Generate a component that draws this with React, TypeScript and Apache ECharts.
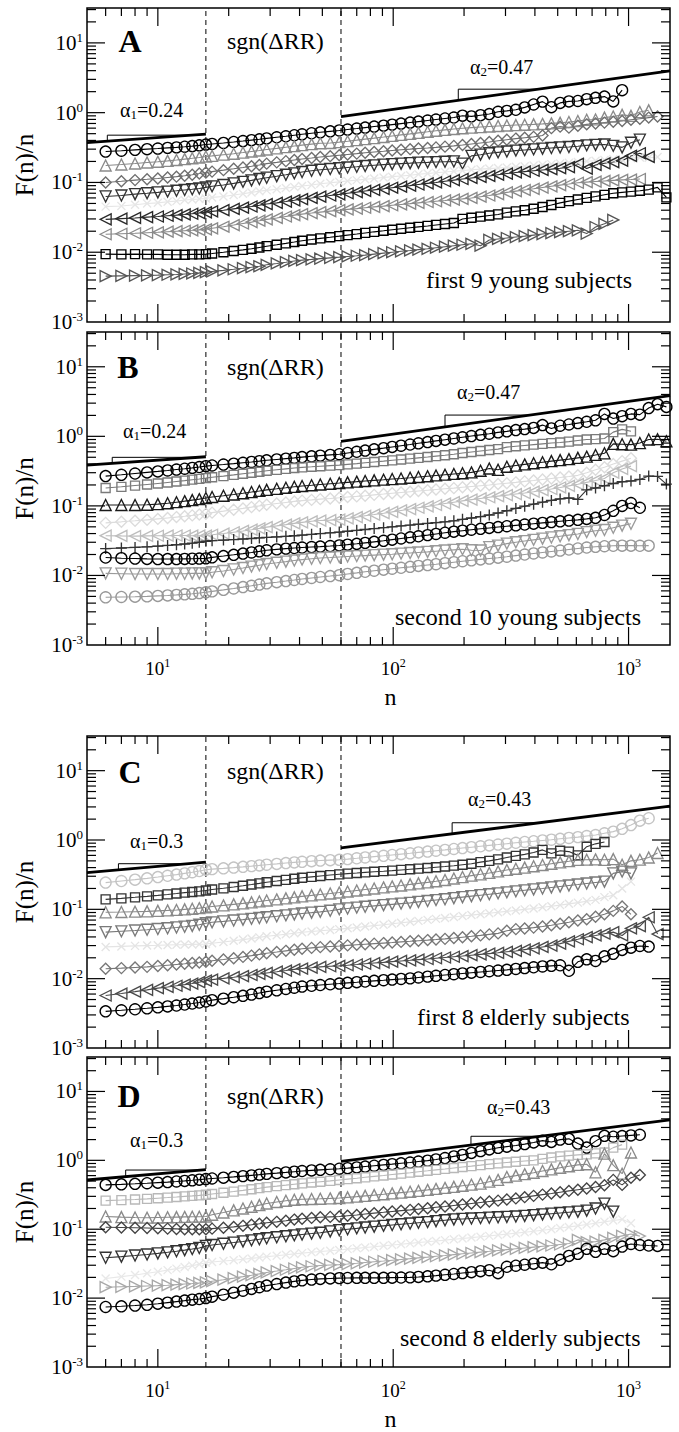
import React, { useEffect, useRef } from 'react';
import * as echarts from 'echarts';

// ---------- window sizes n (x values) ----------
const N = [6, 7, 8, 9, 10, 11, 12, 13, 14, 15,
  16, 17, 19, 21, 23, 25, 27, 29, 32, 35,
  38, 41, 45, 49, 54, 59, 64, 70, 76, 83,
  91, 99, 108, 118, 128, 140, 152, 166, 181, 197,
  215, 235, 256, 279, 304, 332, 362, 395, 431, 470,
  512, 558, 609, 664, 724, 790, 861, 939, 1024, 1117,
  1218, 1328, 1448];

// ---------- Panel A : first 9 young subjects ----------
const A1 = [0.277, 0.285, 0.293, 0.300, 0.306, 0.313, 0.318, 0.325, 0.332, 0.340,
  0.349, 0.356, 0.368, 0.380, 0.392, 0.404, 0.415, 0.428, 0.444, 0.459,
  0.475, 0.490, 0.507, 0.523, 0.540, 0.556, 0.573, 0.592, 0.611, 0.632,
  0.652, 0.674, 0.697, 0.721, 0.745, 0.772, 0.797, 0.825, 0.852, 0.905,
  0.885, 0.920, 0.955, 1.03, 1.06, 1.10, 1.19, 1.31, 1.44, 1.20,
  1.38, 1.45, 1.47, 1.56, 1.63, 1.70, 1.45, 2.10];
const A2 = [0.175, 0.181, 0.187, 0.193, 0.198, 0.204, 0.210, 0.216, 0.222, 0.228,
  0.235, 0.240, 0.250, 0.258, 0.268, 0.278, 0.287, 0.297, 0.308, 0.320,
  0.332, 0.343, 0.354, 0.364, 0.368, 0.378, 0.390, 0.404, 0.418, 0.432,
  0.448, 0.464, 0.480, 0.497, 0.514, 0.532, 0.551, 0.567, 0.583, 0.598,
  0.610, 0.622, 0.634, 0.645, 0.655, 0.664, 0.672, 0.680, 0.690, 0.702,
  0.715, 0.735, 0.760, 0.790, 0.800, 0.850, 0.880, 0.930, 0.900, 1.02,
  1.08];
const A3 = [0.100, 0.104, 0.108, 0.111, 0.114, 0.118, 0.121, 0.125, 0.129, 0.134,
  0.139, 0.143, 0.150, 0.157, 0.164, 0.171, 0.178, 0.186, 0.194, 0.202,
  0.210, 0.217, 0.224, 0.231, 0.238, 0.245, 0.252, 0.259, 0.266, 0.273,
  0.280, 0.287, 0.294, 0.300, 0.306, 0.312, 0.318, 0.326, 0.334, 0.344,
  0.356, 0.368, 0.380, 0.395, 0.410, 0.425, 0.438, 0.450, 0.470, 0.600,
  0.630, 0.610, 0.650, 0.680, 0.700, 0.720, 0.740, 0.760, 0.790, 0.820,
  0.850, 0.880];
const A4 = [0.063, 0.065, 0.068, 0.070, 0.072, 0.074, 0.076, 0.078, 0.080, 0.082,
  0.085, 0.088, 0.092, 0.097, 0.102, 0.107, 0.112, 0.117, 0.123, 0.129,
  0.135, 0.141, 0.147, 0.152, 0.156, 0.160, 0.164, 0.168, 0.172, 0.176,
  0.180, 0.183, 0.186, 0.189, 0.192, 0.194, 0.196, 0.198, 0.200, 0.186,
  0.240, 0.250, 0.262, 0.270, 0.278, 0.286, 0.292, 0.298, 0.305, 0.312,
  0.318, 0.322, 0.330, 0.340, 0.345, 0.350, 0.335, 0.318, 0.370, 0.410];
const A5 = [0.045, 0.046, 0.048, 0.050, 0.051, 0.053, 0.054, 0.056, 0.057, 0.058,
  0.059, 0.061, 0.063, 0.066, 0.069, 0.072, 0.075, 0.077, 0.080, 0.083,
  0.086, 0.089, 0.092, 0.096, 0.099, 0.102, 0.105, 0.108, 0.111, 0.114,
  0.118, 0.121, 0.124, 0.127, 0.131, 0.134, 0.138, 0.141, 0.145, 0.148,
  0.152, 0.155, 0.158, 0.161, 0.164, 0.168, 0.171, 0.175, 0.179, 0.183,
  0.187, 0.191, 0.196, 0.201, 0.205, 0.210, 0.215, 0.212, 0.222, 0.228,
  0.226, 0.232];
const A6 = [0.0296, 0.0303, 0.0310, 0.0318, 0.0325, 0.0333, 0.0340, 0.0348, 0.0356, 0.0364,
  0.0373, 0.0385, 0.0400, 0.0418, 0.0435, 0.0452, 0.0470, 0.0490, 0.0510, 0.0532,
  0.0555, 0.0578, 0.0600, 0.0625, 0.0650, 0.0674, 0.0700, 0.0727, 0.0755, 0.0783,
  0.0810, 0.0840, 0.0870, 0.0900, 0.0935, 0.0970, 0.1000, 0.1040, 0.1080, 0.1120,
  0.1160, 0.1200, 0.1240, 0.1290, 0.1340, 0.1390, 0.1430, 0.1470, 0.1510, 0.1550,
  0.1600, 0.1660, 0.1850, 0.1580, 0.1780, 0.1880, 0.1960, 0.2050, 0.2400, 0.2620,
  0.2320];
const A7 = [0.0181, 0.0184, 0.0187, 0.0190, 0.0193, 0.0197, 0.0200, 0.0203, 0.0206, 0.0209,
  0.0213, 0.0220, 0.0232, 0.0245, 0.0258, 0.0270, 0.0283, 0.0296, 0.0310, 0.0325,
  0.0340, 0.0352, 0.0364, 0.0376, 0.0388, 0.0400, 0.0411, 0.0422, 0.0434, 0.0446,
  0.0458, 0.0471, 0.0484, 0.0497, 0.0510, 0.0524, 0.0538, 0.0552, 0.0567, 0.0582,
  0.0600, 0.0625, 0.0650, 0.0680, 0.0720, 0.0750, 0.0780, 0.0810, 0.0845, 0.0880,
  0.0915, 0.0950, 0.0990, 0.1010, 0.1030, 0.1050, 0.1070, 0.1090, 0.1100, 0.1120];
const A8 = [0.0094, 0.0093, 0.0094, 0.0093, 0.0093, 0.0092, 0.0092, 0.0092, 0.0093, 0.0093,
  0.0094, 0.0096, 0.0100, 0.0104, 0.0108, 0.0112, 0.0117, 0.0122, 0.0128, 0.0134,
  0.0140, 0.0146, 0.0152, 0.0158, 0.0164, 0.0170, 0.0176, 0.0182, 0.0189, 0.0196,
  0.0203, 0.0210, 0.0217, 0.0224, 0.0231, 0.0238, 0.0246, 0.0254, 0.0262, 0.0300,
  0.0312, 0.0324, 0.0336, 0.0348, 0.0370, 0.0385, 0.0400, 0.0420, 0.0445, 0.0475,
  0.0510, 0.0540, 0.0570, 0.0600, 0.0630, 0.0665, 0.0700, 0.0720, 0.0740, 0.0760,
  0.0790, 0.0850, 0.0610];
const A9 = [0.00454, 0.00458, 0.00462, 0.00466, 0.00470, 0.00475, 0.00480, 0.00488, 0.00496, 0.00506,
  0.00518, 0.0053, 0.0055, 0.0057, 0.0059, 0.0061, 0.0063, 0.0066, 0.0069, 0.0072,
  0.0075, 0.0077, 0.0079, 0.0081, 0.0083, 0.0085, 0.0087, 0.0089, 0.0091, 0.0094,
  0.0097, 0.0100, 0.0103, 0.0106, 0.0109, 0.0112, 0.0116, 0.0120, 0.0124, 0.0128,
  0.0132, 0.0124, 0.0150, 0.0155, 0.0160, 0.0165, 0.0170, 0.0176, 0.0182, 0.0188,
  0.0194, 0.0200, 0.0206, 0.0185, 0.0230, 0.0255, 0.0290];

// ---------- Panel B : second 10 young subjects ----------
const B1 = [0.268, 0.280, 0.292, 0.303, 0.313, 0.323, 0.333, 0.342, 0.352, 0.362,
  0.373, 0.381, 0.393, 0.405, 0.417, 0.428, 0.440, 0.452, 0.465, 0.478,
  0.490, 0.503, 0.516, 0.528, 0.541, 0.553, 0.576, 0.600, 0.624, 0.650,
  0.676, 0.704, 0.733, 0.763, 0.794, 0.826, 0.860, 0.895, 0.932, 0.970,
  1.01, 1.05, 1.09, 1.14, 1.18, 1.23, 1.27, 1.32, 1.45, 1.30,
  1.42, 1.48, 1.55, 1.62, 1.70, 2.10, 1.80, 1.95, 2.10, 2.05,
  2.55, 2.90, 2.65];
const B2 = [0.181, 0.188, 0.196, 0.203, 0.210, 0.217, 0.224, 0.231, 0.238, 0.244,
  0.251, 0.258, 0.268, 0.279, 0.290, 0.300, 0.310, 0.320, 0.330, 0.340,
  0.350, 0.358, 0.365, 0.372, 0.379, 0.385, 0.395, 0.405, 0.416, 0.428,
  0.440, 0.452, 0.464, 0.477, 0.490, 0.505, 0.520, 0.535, 0.553, 0.575,
  0.595, 0.615, 0.635, 0.655, 0.700, 0.720, 0.740, 0.760, 0.780, 0.800,
  0.815, 0.840, 0.870, 0.900, 0.910, 0.930, 1.15, 1.26, 1.18];
const B3 = [0.103, 0.103, 0.103, 0.104, 0.106, 0.109, 0.113, 0.117, 0.121, 0.125,
  0.130, 0.134, 0.140, 0.146, 0.152, 0.158, 0.164, 0.170, 0.176, 0.182,
  0.188, 0.193, 0.198, 0.203, 0.208, 0.213, 0.218, 0.223, 0.228, 0.233,
  0.238, 0.243, 0.248, 0.254, 0.260, 0.267, 0.274, 0.281, 0.288, 0.295,
  0.303, 0.320, 0.345, 0.330, 0.365, 0.380, 0.395, 0.410, 0.425, 0.440,
  0.455, 0.470, 0.490, 0.510, 0.540, 0.570, 0.780, 0.770, 0.760, 0.800,
  0.900, 0.910, 0.850];
const B4 = [0.057, 0.059, 0.061, 0.063, 0.065, 0.067, 0.069, 0.071, 0.073, 0.075,
  0.077, 0.080, 0.084, 0.088, 0.092, 0.096, 0.100, 0.104, 0.108, 0.112,
  0.116, 0.119, 0.122, 0.125, 0.128, 0.131, 0.134, 0.137, 0.140, 0.144,
  0.148, 0.152, 0.156, 0.160, 0.164, 0.168, 0.172, 0.176, 0.180, 0.185,
  0.190, 0.195, 0.200, 0.206, 0.212, 0.218, 0.225, 0.232, 0.240, 0.248,
  0.256, 0.265, 0.275, 0.300, 0.330, 0.360, 0.400, 0.440, 0.485];
const B5 = [0.0373, 0.0370, 0.0368, 0.0370, 0.0372, 0.0373, 0.0375, 0.0375, 0.0373, 0.0373,
  0.0373, 0.0385, 0.0400, 0.0418, 0.0436, 0.0455, 0.0475, 0.0495, 0.0516, 0.0538,
  0.0560, 0.0580, 0.0600, 0.0615, 0.0625, 0.0635, 0.0660, 0.0690, 0.0720, 0.0750,
  0.0785, 0.0820, 0.0860, 0.0900, 0.0940, 0.0985, 0.103, 0.108, 0.113, 0.118,
  0.123, 0.128, 0.133, 0.138, 0.143, 0.148, 0.153, 0.160, 0.168, 0.175,
  0.184, 0.194, 0.205, 0.218, 0.232, 0.248, 0.300, 0.340, 0.373];
const B6 = [0.0243, 0.0248, 0.0253, 0.0258, 0.0264, 0.0270, 0.0276, 0.0283, 0.0291, 0.0300,
  0.0310, 0.0316, 0.0322, 0.0328, 0.0334, 0.0340, 0.0346, 0.0352, 0.0358, 0.0365,
  0.0372, 0.0380, 0.0390, 0.0400, 0.0410, 0.0420, 0.0432, 0.0445, 0.0458, 0.0472,
  0.0486, 0.0500, 0.0515, 0.0530, 0.0545, 0.0560, 0.0575, 0.0590, 0.0610, 0.0640,
  0.0670, 0.0700, 0.0740, 0.0790, 0.0850, 0.0920, 0.0990, 0.106, 0.113, 0.120,
  0.126, 0.130, 0.124, 0.170, 0.181, 0.195, 0.210, 0.222, 0.228, 0.240,
  0.268, 0.265, 0.206];
const B7 = [0.0181, 0.0177, 0.0175, 0.0173, 0.0172, 0.0172, 0.0172, 0.0173, 0.0174, 0.0175,
  0.0176, 0.0182, 0.0190, 0.0198, 0.0206, 0.0214, 0.0222, 0.0230, 0.0237, 0.0243,
  0.0248, 0.0252, 0.0256, 0.0260, 0.0265, 0.0270, 0.0277, 0.0285, 0.0294, 0.0304,
  0.0315, 0.0327, 0.0340, 0.0353, 0.0366, 0.0380, 0.0395, 0.0411, 0.0426, 0.0440,
  0.0454, 0.0468, 0.0482, 0.0496, 0.0510, 0.0525, 0.0540, 0.0555, 0.0570, 0.0585,
  0.0600, 0.0615, 0.0630, 0.0650, 0.0674, 0.0740, 0.0850, 0.100, 0.110, 0.094];
const B8 = [0.0107, 0.0106, 0.0105, 0.0105, 0.0105, 0.0105, 0.0106, 0.0106, 0.0107, 0.0107,
  0.0107, 0.0111, 0.0116, 0.0122, 0.0128, 0.0134, 0.0140, 0.0146, 0.0152, 0.0158,
  0.0164, 0.0169, 0.0174, 0.0178, 0.0181, 0.0184, 0.0187, 0.0190, 0.0193, 0.0196,
  0.0199, 0.0202, 0.0206, 0.0210, 0.0214, 0.0218, 0.0223, 0.0228, 0.0233, 0.0238,
  0.0230, 0.0228, 0.0255, 0.0268, 0.0287, 0.0300, 0.0312, 0.0325, 0.0338, 0.0352,
  0.0366, 0.0380, 0.0395, 0.0420, 0.0440, 0.0450, 0.0485, 0.0520, 0.0553];
const B9 = [0.00485, 0.00490, 0.00495, 0.00500, 0.00508, 0.00516, 0.00525, 0.00535, 0.00545, 0.00558,
  0.00572, 0.0059, 0.0062, 0.0065, 0.0068, 0.0071, 0.0074, 0.0077, 0.0080, 0.0083,
  0.0086, 0.0089, 0.0092, 0.0095, 0.0098, 0.0101, 0.0105, 0.0109, 0.0113, 0.0117,
  0.0121, 0.0125, 0.0129, 0.0133, 0.0137, 0.0141, 0.0145, 0.0150, 0.0155, 0.0160,
  0.0165, 0.0170, 0.0175, 0.0180, 0.0186, 0.0193, 0.0200, 0.0207, 0.0214, 0.0221,
  0.0228, 0.0236, 0.0244, 0.0252, 0.0258, 0.0263, 0.0267, 0.0268, 0.0268, 0.0267,
  0.0268];

// ---------- Panel C : first 8 elderly subjects ----------
const C1 = [0.243, 0.256, 0.268, 0.280, 0.292, 0.305, 0.317, 0.330, 0.343, 0.357,
  0.373, 0.380, 0.390, 0.400, 0.410, 0.420, 0.430, 0.440, 0.452, 0.465,
  0.475, 0.485, 0.495, 0.505, 0.512, 0.518, 0.530, 0.545, 0.560, 0.576,
  0.592, 0.608, 0.625, 0.643, 0.662, 0.680, 0.700, 0.720, 0.742, 0.765,
  0.788, 0.812, 0.836, 0.860, 0.885, 0.912, 0.936, 0.960, 0.985, 1.01,
  1.04, 1.07, 1.10, 1.14, 1.18, 1.25, 1.32, 1.45, 1.64, 1.90,
  2.06];
const C2 = [0.139, 0.144, 0.149, 0.154, 0.159, 0.164, 0.169, 0.174, 0.178, 0.182,
  0.187, 0.193, 0.201, 0.210, 0.219, 0.228, 0.237, 0.246, 0.256, 0.266,
  0.276, 0.285, 0.294, 0.303, 0.312, 0.320, 0.327, 0.334, 0.341, 0.348,
  0.355, 0.362, 0.370, 0.378, 0.386, 0.395, 0.405, 0.415, 0.426, 0.440,
  0.455, 0.480, 0.500, 0.525, 0.560, 0.590, 0.620, 0.660, 0.720, 0.640,
  0.700, 0.680, 0.600, 0.800, 0.880, 0.936];
const C3 = [0.0906, 0.0915, 0.0925, 0.0935, 0.0950, 0.0965, 0.0980, 0.100, 0.102, 0.104,
  0.107, 0.110, 0.114, 0.118, 0.122, 0.126, 0.130, 0.134, 0.139, 0.144,
  0.149, 0.154, 0.159, 0.164, 0.169, 0.175, 0.181, 0.187, 0.193, 0.200,
  0.207, 0.214, 0.221, 0.229, 0.237, 0.245, 0.254, 0.265, 0.278, 0.292,
  0.306, 0.320, 0.335, 0.352, 0.370, 0.385, 0.400, 0.418, 0.436, 0.455,
  0.475, 0.495, 0.518, 0.520, 0.525, 0.518, 0.530, 0.440, 0.500, 0.520,
  0.560, 0.650];
const C4 = [0.0469, 0.0482, 0.0495, 0.0508, 0.0521, 0.0534, 0.0548, 0.0562, 0.0577, 0.0600,
  0.0630, 0.0650, 0.0670, 0.0690, 0.0710, 0.0730, 0.0750, 0.0770, 0.0795, 0.0820,
  0.0845, 0.0870, 0.0895, 0.0920, 0.0955, 0.100, 0.103, 0.106, 0.109, 0.112,
  0.115, 0.118, 0.121, 0.124, 0.128, 0.132, 0.136, 0.140, 0.145, 0.150,
  0.155, 0.160, 0.165, 0.170, 0.176, 0.182, 0.188, 0.194, 0.200, 0.207,
  0.214, 0.221, 0.228, 0.236, 0.244, 0.251, 0.330, 0.350, 0.330];
const C5 = [0.0287, 0.0292, 0.0297, 0.0300, 0.0303, 0.0306, 0.0308, 0.0310, 0.0312, 0.0314,
  0.0316, 0.0325, 0.0338, 0.0352, 0.0366, 0.0380, 0.0394, 0.0408, 0.0423, 0.0438,
  0.0453, 0.0466, 0.0478, 0.0490, 0.0504, 0.0518, 0.0532, 0.0548, 0.0565, 0.0582,
  0.0600, 0.0620, 0.0640, 0.0660, 0.0682, 0.0705, 0.0728, 0.0752, 0.0776, 0.0800,
  0.0826, 0.0852, 0.0880, 0.0906, 0.0935, 0.0965, 0.0998, 0.103, 0.107, 0.111,
  0.115, 0.120, 0.125, 0.131, 0.137, 0.150, 0.160, 0.200, 0.251];
const C6 = [0.0139, 0.0142, 0.0145, 0.0148, 0.0152, 0.0156, 0.0160, 0.0164, 0.0168, 0.0171,
  0.0175, 0.0181, 0.0189, 0.0197, 0.0206, 0.0215, 0.0224, 0.0233, 0.0242, 0.0252,
  0.0261, 0.0270, 0.0278, 0.0285, 0.0291, 0.0296, 0.0302, 0.0308, 0.0314, 0.0320,
  0.0326, 0.0332, 0.0339, 0.0346, 0.0353, 0.0360, 0.0367, 0.0375, 0.0385, 0.0396,
  0.0408, 0.0421, 0.0435, 0.0450, 0.0490, 0.0518, 0.0530, 0.0545, 0.0565, 0.0590,
  0.0620, 0.0650, 0.0690, 0.0720, 0.0780, 0.0850, 0.0950, 0.110, 0.0848];
const C7 = [0.00572, 0.0061, 0.0065, 0.0069, 0.0073, 0.0076, 0.0079, 0.0082, 0.0085, 0.0089,
  0.00936, 0.0097, 0.0101, 0.0105, 0.0109, 0.0113, 0.0117, 0.0121, 0.0126, 0.0131,
  0.0136, 0.0140, 0.0144, 0.0148, 0.0151, 0.0153, 0.0156, 0.0160, 0.0164, 0.0168,
  0.0172, 0.0176, 0.0180, 0.0184, 0.0188, 0.0192, 0.0197, 0.0202, 0.0207, 0.0212,
  0.0218, 0.0224, 0.0230, 0.0236, 0.0244, 0.0251, 0.0262, 0.0274, 0.0287, 0.0300,
  0.0320, 0.0345, 0.0370, 0.0398, 0.0420, 0.0445, 0.0469, 0.0420, 0.0530, 0.0572,
  0.0769, 0.0440];
const C8 = [0.00338, 0.00350, 0.00362, 0.00374, 0.00386, 0.00398, 0.00410, 0.00424, 0.00438, 0.00453,
  0.00469, 0.00490, 0.00515, 0.00540, 0.00565, 0.00590, 0.0062, 0.0065, 0.0068, 0.0071,
  0.0074, 0.0077, 0.0079, 0.0081, 0.0083, 0.0085, 0.0087, 0.0089, 0.0091, 0.0093,
  0.0095, 0.0097, 0.0099, 0.0101, 0.0104, 0.0107, 0.0110, 0.0113, 0.0116, 0.0119,
  0.0122, 0.0125, 0.0128, 0.0131, 0.0134, 0.0138, 0.0142, 0.0146, 0.0150, 0.0153,
  0.0156, 0.0130, 0.0175, 0.0190, 0.0180, 0.0210, 0.0228, 0.0260, 0.0280, 0.0296,
  0.0290];

// ---------- Panel D : second 8 elderly subjects ----------
const D1 = [0.440, 0.448, 0.456, 0.465, 0.474, 0.483, 0.493, 0.503, 0.513, 0.524,
  0.535, 0.545, 0.560, 0.575, 0.590, 0.605, 0.620, 0.636, 0.652, 0.668,
  0.684, 0.700, 0.714, 0.728, 0.742, 0.755, 0.770, 0.790, 0.812, 0.835,
  0.858, 0.880, 0.905, 0.930, 0.960, 0.990, 1.03, 1.08, 1.14, 1.20,
  1.28, 1.36, 1.44, 1.52, 1.58, 1.64, 1.72, 1.82, 1.93, 1.85,
  2.00, 2.05, 1.75, 1.53, 1.90, 2.27, 2.20, 2.25, 2.30, 2.35];
const D2 = [0.260, 0.265, 0.270, 0.276, 0.282, 0.288, 0.294, 0.300, 0.305, 0.310,
  0.316, 0.325, 0.338, 0.352, 0.366, 0.380, 0.394, 0.408, 0.422, 0.436,
  0.450, 0.463, 0.476, 0.489, 0.503, 0.518, 0.533, 0.550, 0.567, 0.585,
  0.603, 0.622, 0.642, 0.662, 0.683, 0.705, 0.728, 0.750, 0.775, 0.800,
  0.825, 0.852, 0.880, 0.905, 0.930, 0.955, 0.980, 1.00, 1.05, 1.10,
  1.14, 1.17, 1.20, 1.22, 1.26, 1.30, 1.53, 1.69];
const D3 = [0.153, 0.150, 0.148, 0.147, 0.148, 0.149, 0.150, 0.151, 0.152, 0.152,
  0.153, 0.162, 0.175, 0.188, 0.200, 0.212, 0.224, 0.236, 0.248, 0.259,
  0.268, 0.272, 0.275, 0.277, 0.280, 0.284, 0.290, 0.297, 0.305, 0.313,
  0.322, 0.331, 0.340, 0.350, 0.360, 0.372, 0.385, 0.398, 0.412, 0.427,
  0.443, 0.460, 0.490, 0.520, 0.572, 0.600, 0.630, 0.660, 0.700, 0.740,
  0.780, 0.820, 0.860, 0.877, 0.670, 1.25, 0.850, 0.640, 1.30];
const D4 = [0.107, 0.106, 0.105, 0.104, 0.103, 0.102, 0.101, 0.100, 0.100, 0.100,
  0.100, 0.102, 0.105, 0.108, 0.112, 0.116, 0.120, 0.124, 0.128, 0.133,
  0.138, 0.142, 0.146, 0.149, 0.151, 0.153, 0.157, 0.161, 0.166, 0.171,
  0.176, 0.181, 0.186, 0.191, 0.196, 0.202, 0.208, 0.214, 0.221, 0.228,
  0.236, 0.244, 0.252, 0.260, 0.270, 0.280, 0.292, 0.305, 0.318, 0.330,
  0.345, 0.360, 0.375, 0.390, 0.411, 0.435, 0.520, 0.440, 0.560, 0.611];
const D5 = [0.0385, 0.0400, 0.0415, 0.0430, 0.0446, 0.0462, 0.0479, 0.0497, 0.0515, 0.0535,
  0.0572, 0.0590, 0.0615, 0.0640, 0.0665, 0.0690, 0.0715, 0.0740, 0.0765, 0.0790,
  0.0815, 0.0840, 0.0865, 0.0890, 0.0930, 0.0968, 0.100, 0.103, 0.106, 0.109,
  0.112, 0.115, 0.118, 0.121, 0.124, 0.127, 0.131, 0.135, 0.139, 0.141,
  0.143, 0.145, 0.147, 0.149, 0.151, 0.153, 0.156, 0.160, 0.164, 0.168,
  0.172, 0.176, 0.180, 0.186, 0.200, 0.235, 0.180];
const D6 = [0.0193, 0.0205, 0.0217, 0.0229, 0.0242, 0.0255, 0.0268, 0.0282, 0.0296, 0.0311,
  0.0327, 0.0335, 0.0345, 0.0355, 0.0366, 0.0377, 0.0388, 0.0400, 0.0412, 0.0425,
  0.0438, 0.0450, 0.0462, 0.0474, 0.0487, 0.0500, 0.0514, 0.0528, 0.0543, 0.0558,
  0.0574, 0.0590, 0.0606, 0.0623, 0.0640, 0.0658, 0.0676, 0.0695, 0.0715, 0.0735,
  0.0756, 0.0778, 0.0800, 0.0823, 0.0850, 0.0877, 0.0905, 0.0935, 0.0965, 0.100,
  0.104, 0.108, 0.112, 0.117, 0.122, 0.128, 0.134, 0.139, 0.122];
const D7 = [0.0144, 0.0146, 0.0148, 0.0150, 0.0152, 0.0154, 0.0157, 0.0160, 0.0163, 0.0166,
  0.0169, 0.0176, 0.0185, 0.0195, 0.0205, 0.0215, 0.0225, 0.0236, 0.0247, 0.0258,
  0.0269, 0.0280, 0.0290, 0.0298, 0.0303, 0.0306, 0.0312, 0.0320, 0.0328, 0.0337,
  0.0346, 0.0355, 0.0364, 0.0374, 0.0384, 0.0394, 0.0405, 0.0416, 0.0428, 0.0440,
  0.0452, 0.0465, 0.0478, 0.0492, 0.0506, 0.0520, 0.0535, 0.0550, 0.0565, 0.0580,
  0.0600, 0.0620, 0.0700, 0.0650, 0.0660, 0.0700, 0.0750, 0.0800, 0.0850, 0.0794];
const D8 = [0.00743, 0.0076, 0.0078, 0.0080, 0.0083, 0.0086, 0.0089, 0.0092, 0.0095, 0.0097,
  0.0100, 0.0105, 0.0112, 0.0120, 0.0128, 0.0136, 0.0144, 0.0152, 0.0160, 0.0168,
  0.0175, 0.0181, 0.0186, 0.0190, 0.0193, 0.0195, 0.0196, 0.0197, 0.0197, 0.0197,
  0.0197, 0.0198, 0.0199, 0.0200, 0.0203, 0.0207, 0.0212, 0.0218, 0.0224, 0.0231,
  0.0238, 0.0246, 0.0254, 0.0230, 0.0285, 0.0295, 0.0305, 0.0316, 0.0327, 0.0310,
  0.0360, 0.0410, 0.0440, 0.0520, 0.0470, 0.0520, 0.0480, 0.0560, 0.0611, 0.0590,
  0.0580, 0.0572];

// ---------- fit lines (alpha1, alpha2) and slope brackets ----------
const FIT_A = [[[5, 0.373], [16, 0.493]], [[60, 0.877], [1500, 3.98]]];
const FIT_B = [[[5, 0.385], [16, 0.509]], [[60, 0.848], [1500, 3.85]]];
const FIT_C = [[[5, 0.338], [16, 0.479]], [[60, 0.768], [1500, 3.07]]];
const FIT_D = [[[5, 0.518], [16, 0.734]], [[60, 0.968], [1500, 3.86]]];
const BRACKET_A = [[[6.1, 0.391], [6.1, 0.476], [13.8, 0.476]], [[189, 1.504], [189, 2.171], [413, 2.171]]];
const BRACKET_B = [[[6.4, 0.408], [6.4, 0.499], [14.8, 0.499]], [[166, 1.368], [166, 2.022], [381, 2.022]]];
const BRACKET_C = [[[6.8, 0.371], [6.8, 0.455], [13.5, 0.455]], [[178, 1.226], [178, 1.773], [420, 1.773]]];
const BRACKET_D = [[[7.3, 0.580], [7.3, 0.723], [15.2, 0.723]], [[214, 1.672], [214, 2.235], [420, 2.235]]];
const CROSSOVERS = [16, 60];

// ---------- texts ----------
const LETTERS = ['A', 'B', 'C', 'D'];
const ALPHA1 = ['0.24', '0.24', '0.3', '0.3'];
const ALPHA2 = ['0.47', '0.47', '0.43', '0.43'];
const SUBJECTS = ['first 9 young subjects', 'second 10 young subjects', 'first 8 elderly subjects', 'second 8 elderly subjects'];
const SGN = 'sgn(\u0394RR)';
const Y_TITLE = 'F(n)/n';
const X_TITLE = 'n';

// axis ranges and tick structure
const X_MIN = 5, X_MAX = 1500, Y_MIN = 0.001, Y_MAX = 31.62;
const X_DECADES = [1, 10, 100, 1000];
const Y_DECADES = [0.001, 0.01, 0.1, 1, 10];
const TICK_MULTS = [1, 2, 3, 4, 5, 6, 7, 8, 9];

// ---------- layout / styles ----------
const FONT = 'Liberation Serif, Times New Roman, serif';
const GRID_TOPS = [8, 332, 736, 1057];
const GRID_HEIGHTS = [314, 313, 312, 314];
const GRID_LEFT = 87;
const GRID_WIDTH = 583;

const LAYOUT = [
  { letter: [130, 41], sgn: [227, 41], a1: [120, 110], a2: [470, 67], subj: [426, 280] },
  { letter: [128, 367], sgn: [227, 367], a1: [123, 431], a2: [457, 392], subj: [395, 617] },
  { letter: [130, 772], sgn: [227, 771], a1: [130, 841], a2: [468, 799], subj: [417, 1017] },
  { letter: [129, 1096], sgn: [227, 1096], a1: [130, 1140], a2: [487, 1107], subj: [400, 1338] },
];

const SYM: Record<string, string> = {
  circle: 'circle',
  up: 'triangle',
  down: 'path://M0,0L10,0L5,9Z',
  left: 'path://M0,5L9,0L9,10Z',
  right: 'path://M9,5L0,0L0,10Z',
  diamond: 'diamond',
  square: 'rect',
  plus: 'path://M5,0L5,10M0,5L10,5',
  cross: 'path://M0,0L10,10M10,0L0,10',
};
const SYM_SIZE: Record<string, number> = {
  circle: 11, up: 11, down: 11, left: 11, right: 11, diamond: 11, square: 9, plus: 11, cross: 8,
};

const PANELS = [
  {
    fit: FIT_A, brackets: BRACKET_A,
    series: [
      { v: A1, s: 'circle', c: '#000000' },
      { v: A2, s: 'up', c: '#8a8a8a' },
      { v: A3, s: 'diamond', c: '#6e6e6e' },
      { v: A4, s: 'down', c: '#333333' },
      { v: A5, s: 'cross', c: '#e6e6e6' },
      { v: A6, s: 'left', c: '#2a2a2a' },
      { v: A7, s: 'left', c: '#8a8a8a' },
      { v: A8, s: 'square', c: '#000000' },
      { v: A9, s: 'right', c: '#555555' },
    ],
  },
  {
    fit: FIT_B, brackets: BRACKET_B,
    series: [
      { v: B1, s: 'circle', c: '#000000' },
      { v: B2, s: 'square', c: '#7a7a7a' },
      { v: B3, s: 'up', c: '#1a1a1a' },
      { v: B4, s: 'diamond', c: '#dcdcdc' },
      { v: B5, s: 'left', c: '#bdbdbd' },
      { v: B6, s: 'plus', c: '#333333' },
      { v: B7, s: 'circle', c: '#000000' },
      { v: B8, s: 'down', c: '#9a9a9a' },
      { v: B9, s: 'circle', c: '#999999' },
    ],
  },
  {
    fit: FIT_C, brackets: BRACKET_C,
    series: [
      { v: C1, s: 'circle', c: '#c4c4c4' },
      { v: C2, s: 'square', c: '#333333' },
      { v: C3, s: 'up', c: '#8a8a8a' },
      { v: C4, s: 'down', c: '#7a7a7a' },
      { v: C5, s: 'cross', c: '#e4e4e4' },
      { v: C6, s: 'diamond', c: '#777777' },
      { v: C7, s: 'left', c: '#4a4a4a' },
      { v: C8, s: 'circle', c: '#000000' },
    ],
  },
  {
    fit: FIT_D, brackets: BRACKET_D,
    series: [
      { v: D1, s: 'circle', c: '#000000' },
      { v: D2, s: 'square', c: '#b8b8b8' },
      { v: D3, s: 'up', c: '#8a8a8a' },
      { v: D4, s: 'diamond', c: '#444444' },
      { v: D5, s: 'down', c: '#333333' },
      { v: D6, s: 'cross', c: '#e8e8e8' },
      { v: D7, s: 'right', c: '#a8a8a8' },
      { v: D8, s: 'circle', c: '#000000' },
    ],
  },
];

function powLabel(v: number) {
  if (!(v > 0)) return '';
  const e = Math.round(Math.log10(v));
  if (Math.abs(v / Math.pow(10, e) - 1) > 1e-6) return '';
  return '{b|10}{s|' + e + '}';
}

function tickValues(decades: number[], lo: number, hi: number) {
  const out: number[][] = [];
  decades.forEach((d) => {
    TICK_MULTS.forEach((m) => {
      const v = d * m;
      if (v > lo * 1.0001 && v < hi * 0.9999) out.push([v, m === 1 ? 1 : 0]);
    });
  });
  return out;
}

const TICK_STYLE = { stroke: '#000', lineWidth: 1.2 };

function xTickRender(params: any, api: any) {
  const v = api.value(0);
  const major = api.value(2) === 1;
  const p = api.coord([v, 1]);
  const cs = params.coordSys;
  const L = major ? 18 : 8;
  const bottom = cs.y + cs.height;
  return {
    type: 'group',
    children: [
      { type: 'line', shape: { x1: p[0], y1: bottom, x2: p[0], y2: bottom - L }, style: TICK_STYLE },
      { type: 'line', shape: { x1: p[0], y1: cs.y, x2: p[0], y2: cs.y + L }, style: TICK_STYLE },
    ],
  };
}

function yTickRender(params: any, api: any) {
  const v = api.value(1);
  const major = api.value(2) === 1;
  const p = api.coord([10, v]);
  const cs = params.coordSys;
  const L = major ? 18 : 9;
  const right = cs.x + cs.width;
  return {
    type: 'group',
    children: [
      { type: 'line', shape: { x1: cs.x, y1: p[1], x2: cs.x + L, y2: p[1] }, style: TICK_STYLE },
      { type: 'line', shape: { x1: right, y1: p[1], x2: right - L, y2: p[1] }, style: TICK_STYLE },
    ],
  };
}

function textEl(x: number, y: number, text: string, extra: any) {
  return {
    type: 'text',
    x,
    y,
    silent: true,
    z: 20,
    style: Object.assign({
      text,
      fontFamily: FONT,
      fontSize: 24,
      fill: '#000',
      align: 'left',
      textAlign: 'left',
      verticalAlign: 'middle',
      textVerticalAlign: 'middle',
    }, extra),
  };
}

function alphaRich() {
  return {
    a: { fontFamily: FONT, fontSize: 20, lineHeight: 22, verticalAlign: 'middle', fill: '#000', color: '#000' },
    s: { fontFamily: FONT, fontSize: 13, lineHeight: 12, verticalAlign: 'bottom', fill: '#000', color: '#000' },
  };
}

function buildOption() {
  const grid: any[] = [];
  const xAxis: any[] = [];
  const yAxis: any[] = [];
  const series: any[] = [];
  const graphic: any[] = [];

  const xTicks = tickValues(X_DECADES, X_MIN, X_MAX).map((t) => [t[0], 1, t[1]]);
  const yTicks = tickValues(Y_DECADES, Y_MIN, Y_MAX).map((t) => [10, t[0], t[1]]);

  const yRich = {
    b: { fontFamily: FONT, fontSize: 21, lineHeight: 24, verticalAlign: 'middle', color: '#000' },
    s: { fontFamily: FONT, fontSize: 13, lineHeight: 10, verticalAlign: 'top', color: '#000' },
  };
  const xRich = {
    b: { fontFamily: FONT, fontSize: 19, lineHeight: 22, verticalAlign: 'middle', color: '#000' },
    s: { fontFamily: FONT, fontSize: 12, lineHeight: 9, verticalAlign: 'top', color: '#000' },
  };

  PANELS.forEach((panel, i) => {
    const showX = i === 1 || i === 3;
    grid.push({
      left: GRID_LEFT, top: GRID_TOPS[i], width: GRID_WIDTH, height: GRID_HEIGHTS[i],
      show: true, borderColor: '#000', borderWidth: 1.5, backgroundColor: 'transparent',
    });
    xAxis.push({
      type: 'log', logBase: 10, gridIndex: i, min: X_MIN, max: X_MAX,
      axisLine: { show: false }, axisTick: { show: false }, splitLine: { show: false },
      axisLabel: { show: showX, formatter: powLabel, margin: 12, rich: xRich, color: '#000', fontFamily: FONT },
      name: showX ? X_TITLE : '', nameLocation: 'middle', nameGap: 40,
      nameTextStyle: { fontFamily: FONT, fontSize: 24, color: '#000', padding: [0, 0, 0, 24] },
    });
    yAxis.push({
      type: 'log', logBase: 10, gridIndex: i, min: Y_MIN, max: Y_MAX,
      axisLine: { show: false }, axisTick: { show: false }, splitLine: { show: false },
      axisLabel: { formatter: powLabel, margin: 4, rich: yRich, color: '#000', fontFamily: FONT },
      name: Y_TITLE, nameLocation: 'middle', nameGap: 50, nameRotate: 90,
      nameTextStyle: { fontFamily: FONT, fontSize: 25, color: '#000' },
    });

    // crossover dashed lines
    CROSSOVERS.forEach((c) => {
      series.push({
        type: 'line', xAxisIndex: i, yAxisIndex: i, silent: true, symbol: 'none', z: 1,
        data: [[c, Y_MIN], [c, Y_MAX]],
        lineStyle: { color: '#000', width: 1, type: [5, 4] },
      });
    });

    // data series
    panel.series.forEach((s) => {
      series.push({
        type: 'line', xAxisIndex: i, yAxisIndex: i, silent: true, z: 3,
        data: s.v.map((v, k) => [N[k], v]),
        symbol: SYM[s.s], symbolSize: SYM_SIZE[s.s], showSymbol: true,
        lineStyle: { color: s.c, width: 1.1 },
        itemStyle: { color: 'rgba(255,255,255,0)', borderColor: s.c, borderWidth: 1.35 },
        emphasis: { disabled: true },
      });
    });

    // fit lines
    panel.fit.forEach((f) => {
      series.push({
        type: 'line', xAxisIndex: i, yAxisIndex: i, silent: true, symbol: 'none', z: 4,
        data: f, lineStyle: { color: '#000', width: 2.8 },
      });
    });
    // slope brackets
    panel.brackets.forEach((b) => {
      series.push({
        type: 'line', xAxisIndex: i, yAxisIndex: i, silent: true, symbol: 'none', z: 4,
        data: b, lineStyle: { color: '#000', width: 1 },
      });
    });

    // ticks
    series.push({
      type: 'custom', xAxisIndex: i, yAxisIndex: i, silent: true, z: 6,
      data: xTicks, renderItem: xTickRender,
    });
    series.push({
      type: 'custom', xAxisIndex: i, yAxisIndex: i, silent: true, z: 6,
      data: yTicks, renderItem: yTickRender,
    });

    // annotations
    const L = LAYOUT[i];
    graphic.push(textEl(L.letter[0], L.letter[1], LETTERS[i], {
      fontSize: 32, fontWeight: 'bold', align: 'center', textAlign: 'center',
    }));
    graphic.push(textEl(L.sgn[0], L.sgn[1], SGN, { fontSize: 24 }));
    graphic.push(textEl(L.a1[0], L.a1[1], '{a|\u03b1}{s|1}{a|=' + ALPHA1[i] + '}', { rich: alphaRich(), fontSize: 20 }));
    graphic.push(textEl(L.a2[0], L.a2[1], '{a|\u03b1}{s|2}{a|=' + ALPHA2[i] + '}', { rich: alphaRich(), fontSize: 20 }));
    graphic.push(textEl(L.subj[0], L.subj[1], SUBJECTS[i], { fontSize: 24 }));
  });

  return {
    animation: false,
    backgroundColor: '#fff',
    textStyle: { fontFamily: FONT },
    grid, xAxis, yAxis, series, graphic,
  };
}

export default function App() {
  const ref = useRef<HTMLDivElement>(null);
  useEffect(() => {
    if (!ref.current) return;
    const chart = echarts.init(ref.current, undefined, { renderer: 'svg' });
    chart.setOption(buildOption() as any);
    return () => chart.dispose();
  }, []);
  return (
    <div
      ref={ref}
      style={{ position: 'absolute', left: 0, top: 0, width: 679, height: 1432, background: '#fff' }}
    />
  );
}
